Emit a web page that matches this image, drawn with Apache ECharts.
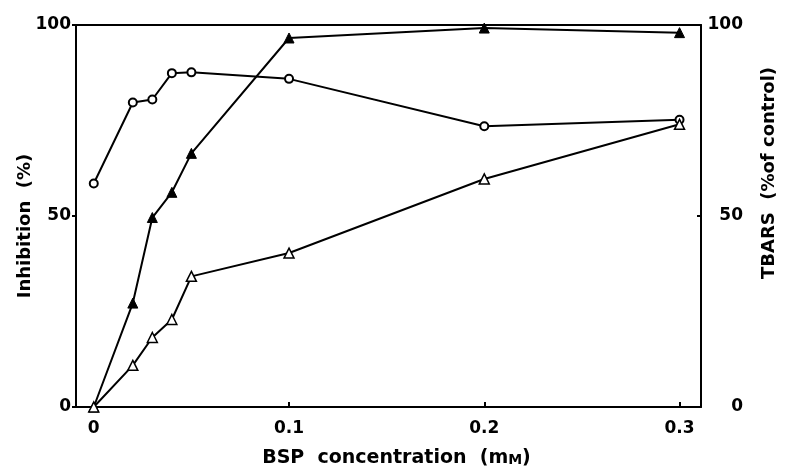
<!DOCTYPE html>
<html lang="en">
<head>
	<meta charset="UTF-8">
	<script src="https://cdn.jsdelivr.net/npm/echarts@6/dist/echarts.min.js"></script>
	<style>
		html, body { margin: 0; padding: 0; background: #fff; }
	</style>
</head>
<body>

<div id="chart" style="width: 786px; height: 473px;"></div>

<script>
  // BSP concentration (mM)
  var conc = [0, 0.02, 0.03, 0.04, 0.05, 0.1, 0.2, 0.3];
  // open circles
  var openCircle = [58.5, 79.7, 80.5, 87.4, 87.6, 85.9, 73.5, 75.2];
  // filled triangles
  var filledTri = [0, 27.2, 49.6, 56.2, 66.4, 96.6, 99.2, 98.0];
  // open triangles
  var openTri = [0, 10.9, 18.2, 22.9, 34.2, 40.3, 59.7, 74.0];
  var xTicks = [0, 0.1, 0.2, 0.3];

  var font = 'DejaVu Sans';

  function pairs(xs, ys) {
    var out = [];
    for (var i = 0; i < xs.length; i++) out.push([xs[i], ys[i]]);
    return out;
  }

  var chart = echarts.init(document.getElementById('chart'));

  var lineStyle = { color: '#000', width: 2 };

  var option = {
    animation: false,
    backgroundColor: '#fff',
    grid: { left: 76, top: 25, width: 632, height: 390, containLabel: false },
    xAxis: [
      {
        type: 'value',
        min: -0.0091,
        max: 0.311,
        position: 'bottom',
        splitLine: { show: false },
        axisLine: { show: true, onZero: false, lineStyle: { color: '#000', width: 2 } },
        axisTick: { show: true, inside: true, length: 5, customValues: xTicks, lineStyle: { color: '#000', width: 2 } },
        axisLabel: {
          customValues: xTicks, margin: 13,
          color: '#000', fontFamily: font, fontWeight: 'bold', fontSize: 17,
          formatter: function (v) { return v === 0 ? '0' : String(v); }
        },
        name: '{n|BSP  concentration  (m}{sc|M}{n|)}',
        nameLocation: 'middle',
        nameGap: 37,
        nameTextStyle: {
          color: '#000', fontFamily: font, fontWeight: 'bold', fontSize: 19,
          padding: [0, 0, 0, 16],
          rich: {
            n: { fontFamily: font, fontWeight: 'bold', fontSize: 19, color: '#000', lineHeight: 24, verticalAlign: 'bottom' },
            sc: { fontFamily: font, fontWeight: 'bold', fontSize: 14, color: '#000', lineHeight: 24, verticalAlign: 'bottom', padding: [0, 0, 1, 0] }
          }
        }
      },
      {
        type: 'value',
        min: -0.0091,
        max: 0.311,
        position: 'top',
        splitLine: { show: false },
        axisLine: { show: true, onZero: false, lineStyle: { color: '#000', width: 2 } },
        axisTick: { show: false },
        axisLabel: { show: false }
      }
    ],
    yAxis: [
      {
        type: 'value',
        min: 0, max: 100, interval: 50,
        position: 'left',
        splitLine: { show: false },
        axisLine: { show: true, onZero: false, lineStyle: { color: '#000', width: 2 } },
        axisTick: { show: true, length: 4, lineStyle: { color: '#000', width: 2 } },
        axisLabel: { margin: 5, color: '#000', fontFamily: font, fontWeight: 'bold', fontSize: 17 },
        name: 'Inhibition  (%)',
        nameLocation: 'middle',
        nameMoveOverlap: false,
        nameGap: 42,
        nameRotate: 90,
        nameTextStyle: { color: '#000', fontFamily: font, fontWeight: 'bold', fontSize: 18, padding: [0, 20, 0, 0] }
      },
      {
        type: 'value',
        min: 0, max: 100, interval: 50,
        position: 'right',
        splitLine: { show: false },
        axisLine: { show: true, onZero: false, lineStyle: { color: '#000', width: 2 } },
        axisTick: { show: true, inside: true, length: 4, lineStyle: { color: '#000', width: 2 } },
        axisLabel: { margin: 42, align: 'right', color: '#000', fontFamily: font, fontWeight: 'bold', fontSize: 17 },
        name: 'TBARS  (%of control)',
        nameLocation: 'middle',
        nameMoveOverlap: false,
        nameGap: 59,
        nameRotate: 90,
        nameTextStyle: { color: '#000', fontFamily: font, fontWeight: 'bold', fontSize: 18, padding: [0, 0, 0, 86] }
      }
    ],
    series: [
      {
        name: 'open circle',
        type: 'line',
        data: pairs(conc, openCircle),
        symbol: 'circle',
        symbolSize: 8,
        lineStyle: lineStyle,
        itemStyle: { color: '#fff', borderColor: '#000', borderWidth: 2 },
        z: 3
      },
      {
        name: 'filled triangle',
        type: 'line',
        data: pairs(conc, filledTri),
        symbol: 'triangle',
        symbolSize: 10,
        lineStyle: lineStyle,
        itemStyle: { color: '#000', borderColor: '#000', borderWidth: 1 },
        z: 3
      },
      {
        name: 'open triangle',
        type: 'line',
        data: pairs(conc, openTri),
        symbol: 'triangle',
        symbolSize: 10,
        lineStyle: lineStyle,
        itemStyle: { color: '#fff', borderColor: '#000', borderWidth: 1.5 },
        z: 3
      }
    ]
  };

  chart.setOption(option);
</script>

</body>
</html>
